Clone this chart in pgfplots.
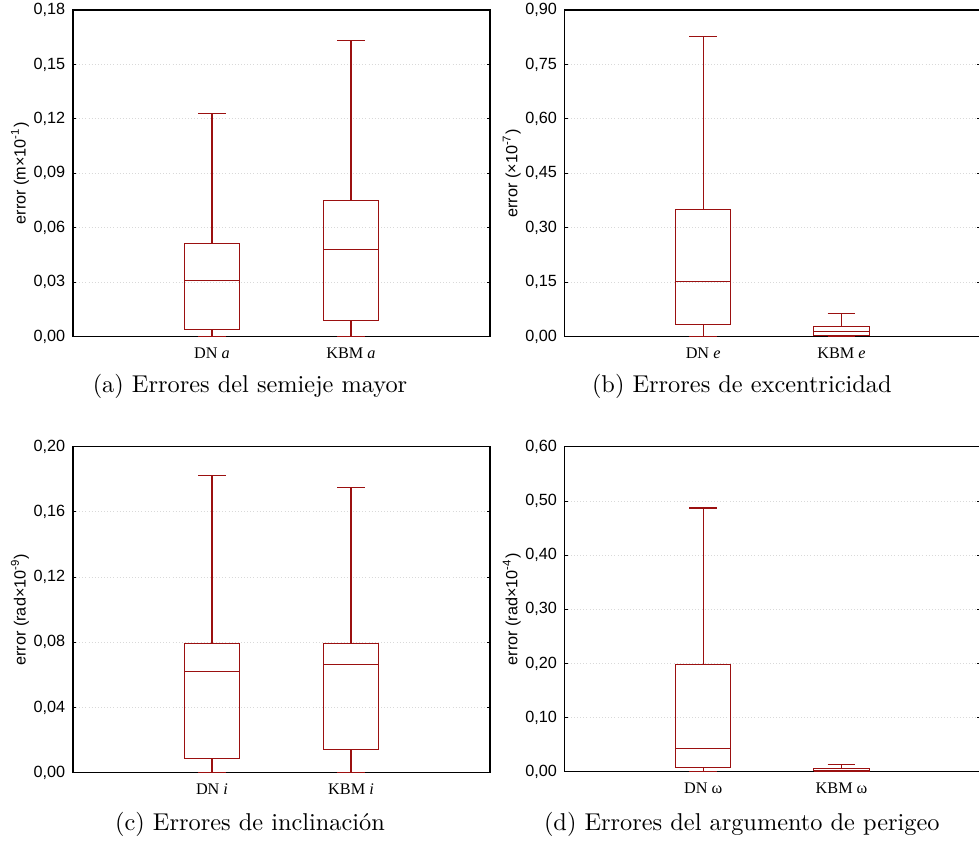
\documentclass[border=0pt]{standalone}
\usepackage{fontspec}
\setmainfont{Latin Modern Roman}
\newfontfamily\sansf{Liberation Sans}
\newfontfamily\serf{Liberation Serif}
\usepackage{pgfplots}
\pgfplotsset{compat=1.18}
\definecolor{boxred}{RGB}{155,16,16}

\pgfplotsset{
  errbox/.style={
    scale only axis,
    xmin=0, xmax=3, ymin=0,
    xtick={1,2}, xtick style={draw=none},
    xticklabel style={font=\serf\fontsize{7.3}{8}\selectfont, yshift=-1.6pt},
    ytick pos=both, yticklabel pos=left, tick align=inside, major tick length=1.4pt,
    ytick style={black, line width=0.4pt},
    yticklabel style={font=\sansf\fontsize{7.3}{8}\selectfont,
      /pgf/number format/assume math mode=true,
      /pgf/number format/use comma,
      /pgf/number format/fixed,
      /pgf/number format/fixed zerofill,
      /pgf/number format/precision=2},
    scaled y ticks=false,
    ylabel style={font=\sansf\fontsize{7.3}{8}\selectfont},
    ylabel shift=-4.8pt,
    ymajorgrids, grid style={black!15, densely dotted, line width=0.4pt},
    axis line style={line width=0.5pt},
    unbounded coords=jump,
  },
  redbox/.style={draw=boxred, line width=0.48pt, solid, no markers, line join=miter},
}

% box-and-whisker at x=1 and x=2: {lower whisker}{lower quartile}{median}{upper quartile}{upper whisker}
\newcommand{\dnbox}[5]{%
  \addplot[redbox] coordinates {
    (0.8,#2) (1.2,#2) (1.2,#4) (0.8,#4) (0.8,#2) (1,nan)
    (0.8,#3) (1.2,#3) (1,nan)
    (1,#4) (1,#5) (1,nan) (0.9,#5) (1.1,#5) (1,nan)
    (1,#2) (1,#1) (1,nan) (0.9,#1) (1.1,#1)};}
\newcommand{\kbmbox}[5]{%
  \addplot[redbox] coordinates {
    (1.8,#2) (2.2,#2) (2.2,#4) (1.8,#4) (1.8,#2) (2,nan)
    (1.8,#3) (2.2,#3) (2,nan)
    (2,#4) (2,#5) (2,nan) (1.9,#5) (2.1,#5) (2,nan)
    (2,#2) (2,#1) (2,nan) (1.9,#1) (2.1,#1)};}

\newcommand{\caplabel}[1]{\fontsize{10.95}{13}\selectfont #1}

\begin{document}
\begin{tikzpicture}
\useasboundingbox (0,0) rectangle (440.55pt,-380.25pt);

% (a) semieje mayor
\begin{axis}[errbox, at={(32.85pt,-151.5pt)}, width=187.65pt, height=147.0pt,
  ymax=0.18, ytick={0,0.03,0.06,0.09,0.12,0.15,0.18},
  xticklabels={DN \textit{a}, KBM \textit{a}},
  ylabel={error (m×10\textsuperscript{-1})}]
\dnbox{0}{0.0037}{0.0307}{0.0514}{0.1228}
\kbmbox{0}{0.0088}{0.0479}{0.0752}{0.1631}
\end{axis}

% (b) excentricidad
\begin{axis}[errbox, at={(254.1pt,-151.5pt)}, width=186.9pt, height=147.0pt,
  ymax=0.9, ytick={0,0.15,0.3,0.45,0.6,0.75,0.9},
  xticklabels={DN \textit{e}, KBM \textit{e}},
  ylabel={error (×10\textsuperscript{-7})}]
\dnbox{0}{0.034}{0.1515}{0.351}{0.828}
\kbmbox{0}{0.002}{0.0149}{0.0286}{0.0644}
\end{axis}

% (c) inclinacion
\begin{axis}[errbox, at={(32.85pt,-347.7pt)}, width=187.65pt, height=146.7pt,
  ymax=0.2, ytick={0,0.04,0.08,0.12,0.16,0.2},
  xticklabels={DN \textit{i}, KBM \textit{i}},
  ylabel={error (rad×10\textsuperscript{-9})}]
\dnbox{0}{0.0088}{0.0622}{0.079}{0.1822}
\kbmbox{0}{0.0141}{0.0663}{0.079}{0.1751}
\end{axis}

% (d) argumento de perigeo
\begin{axis}[errbox, at={(254.1pt,-347.3pt)}, width=186.9pt, height=146.25pt,
  ymax=0.6, ytick={0,0.1,0.2,0.3,0.4,0.5,0.6},
  xticklabels={DN ω, KBM ω},
  ylabel={error (rad×10\textsuperscript{-4})}]
\dnbox{0}{0.0074}{0.0425}{0.1989}{0.487}
\kbmbox{0}{0.0008}{0.003}{0.0055}{0.014}
\end{axis}

\node[anchor=base] at (112.5pt,-176.7pt) {\caplabel{(a) Errores del semieje mayor}};
\node[anchor=base] at (333.8pt,-176.7pt) {\caplabel{(b) Errores de excentricidad}};
\node[anchor=base] at (112.5pt,-373.5pt) {\caplabel{(c) Errores de inclinación}};
\node[anchor=base] at (333.8pt,-373.5pt) {\caplabel{(d) Errores del argumento de perigeo}};
\end{tikzpicture}
\end{document}
